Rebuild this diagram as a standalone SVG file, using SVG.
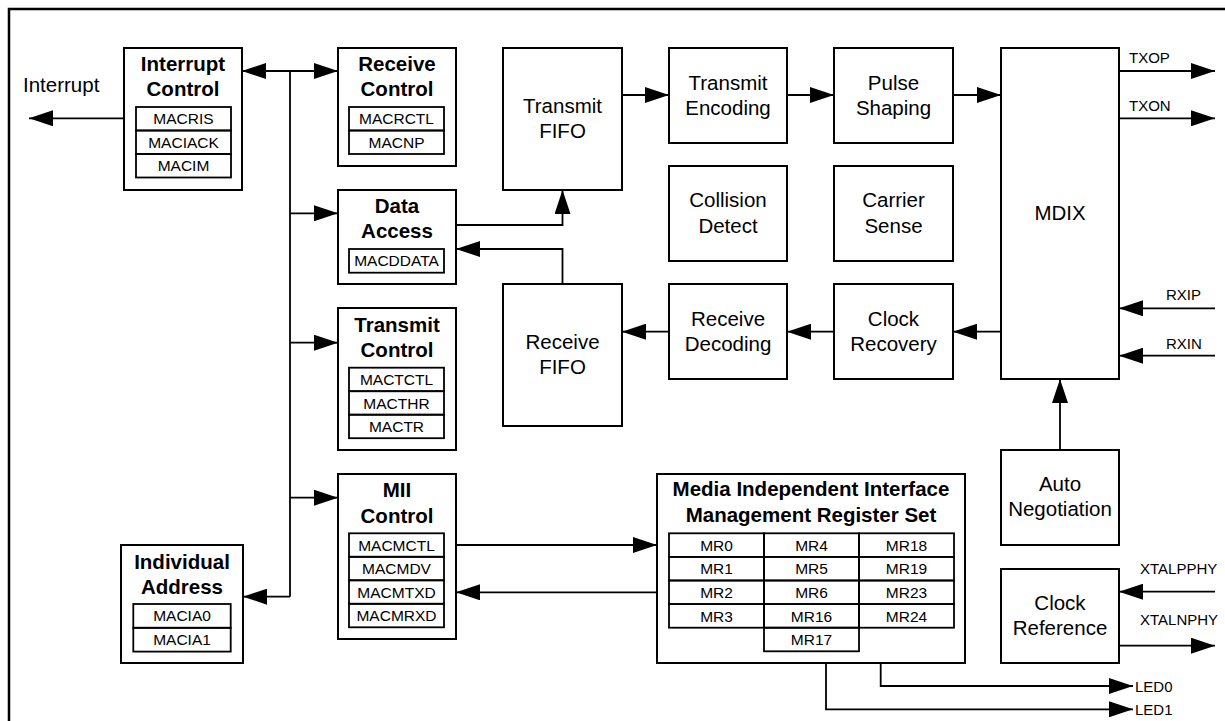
<svg xmlns="http://www.w3.org/2000/svg" width="1225" height="721" viewBox="0 0 1225 721">
<defs>
<marker id="ah" viewBox="0 0 24 16" refX="24" refY="8" markerWidth="24" markerHeight="16" markerUnits="userSpaceOnUse" orient="auto-start-reverse">
<path d="M0,0 L24,8 L0,16 z" fill="#000"/>
</marker>
<style>
.box{fill:#fff;stroke:#000;stroke-width:2}
.cell{fill:none;stroke:#000;stroke-width:1.8}
.ln{fill:none;stroke:#000;stroke-width:1.8}
.ar{fill:none;stroke:#000;stroke-width:1.8;marker-end:url(#ah)}
.t{font-family:"Liberation Sans",Arial,sans-serif;font-size:20.5px;text-anchor:middle;fill:#000}
.b{font-family:"Liberation Sans",Arial,sans-serif;font-size:20.5px;font-weight:bold;text-anchor:middle;fill:#000}
.r{font-family:"Liberation Sans",Arial,sans-serif;font-size:15.5px;text-anchor:middle;fill:#000}
.s{font-family:"Liberation Sans",Arial,sans-serif;font-size:15px;fill:#000}
</style>
</defs>
<rect width="1225" height="721" fill="#fff"/>
<path d="M9,721 V9 H1225" fill="none" stroke="#000" stroke-width="2.5"/>

<g id="connectors">
<line class="ar" x1="124" y1="118.3" x2="29" y2="118.3"/>
<line class="ln" x1="266" y1="71" x2="314" y2="71"/>
<line class="ar" x1="290" y1="71" x2="338" y2="71"/>
<line class="ar" x1="290" y1="71" x2="242" y2="71"/>
<line class="ln" x1="290" y1="71" x2="290" y2="596.7"/>
<line class="ar" x1="290" y1="213.3" x2="338" y2="213.3"/>
<line class="ar" x1="290" y1="342.7" x2="338" y2="342.7"/>
<line class="ar" x1="290" y1="497.7" x2="338" y2="497.7"/>
<line class="ar" x1="290" y1="596.7" x2="243" y2="596.7"/>
<path class="ar" d="M456,225 H562.5 V190"/>
<path class="ar" d="M562.5,284 V249 H456"/>
<line class="ar" x1="622" y1="95" x2="669" y2="95"/>
<line class="ar" x1="787" y1="95" x2="834" y2="95"/>
<line class="ar" x1="953" y1="95" x2="1001" y2="95"/>
<line class="ar" x1="1119" y1="71" x2="1215" y2="71"/>
<line class="ar" x1="1119" y1="118.3" x2="1215" y2="118.3"/>
<line class="ar" x1="1215" y1="308.3" x2="1119" y2="308.3"/>
<line class="ar" x1="1215" y1="355.7" x2="1119" y2="355.7"/>
<line class="ar" x1="1001" y1="331.7" x2="953" y2="331.7"/>
<line class="ar" x1="834" y1="331.7" x2="787" y2="331.7"/>
<line class="ar" x1="669" y1="331.7" x2="622" y2="331.7"/>
<line class="ar" x1="1060" y1="450" x2="1060" y2="379"/>
<line class="ar" x1="1215" y1="591.7" x2="1119" y2="591.7"/>
<line class="ar" x1="1119" y1="645.7" x2="1215" y2="645.7"/>
<line class="ar" x1="456" y1="545" x2="657" y2="545"/>
<line class="ar" x1="657" y1="592.3" x2="456" y2="592.3"/>
<path class="ar" d="M880.7,663 V686 H1133"/>
<path class="ar" d="M826,663 V709.3 H1133"/>
</g>

<g id="labels">
<text class="t" x="23" y="92" style="text-anchor:start">Interrupt</text>
<text class="s" x="1129" y="63">TXOP</text>
<text class="s" x="1129" y="111">TXON</text>
<text class="s" x="1166" y="300">RXIP</text>
<text class="s" x="1166" y="348.5">RXIN</text>
<text class="s" x="1140" y="574">XTALPPHY</text>
<text class="s" x="1140" y="625">XTALNPHY</text>
<text class="s" x="1135" y="691.5">LED0</text>
<text class="s" x="1135" y="714.5">LED1</text>
</g>

<g id="interrupt-control">
<rect class="box" x="124" y="48" width="118" height="142"/>
<text class="b" x="183" y="71">Interrupt</text>
<text class="b" x="183" y="96">Control</text>
<rect class="cell" x="136" y="107" width="95" height="23.5"/>
<rect class="cell" x="136" y="130.5" width="95" height="23.5"/>
<rect class="cell" x="136" y="154" width="95" height="23.5"/>
<text class="r" x="183.5" y="124.3">MACRIS</text>
<text class="r" x="183.5" y="147.8">MACIACK</text>
<text class="r" x="183.5" y="171.3">MACIM</text>
</g>

<g id="receive-control">
<rect class="box" x="338" y="48" width="118" height="118"/>
<text class="b" x="397" y="71">Receive</text>
<text class="b" x="397" y="96">Control</text>
<rect class="cell" x="349" y="107" width="95" height="23.5"/>
<rect class="cell" x="349" y="130.5" width="95" height="23.5"/>
<text class="r" x="396.5" y="124.3">MACRCTL</text>
<text class="r" x="396.5" y="147.8">MACNP</text>
</g>

<g id="data-access">
<rect class="box" x="338" y="190" width="118" height="94"/>
<text class="b" x="397" y="212.5">Data</text>
<text class="b" x="397" y="237.5">Access</text>
<rect class="cell" x="349" y="249" width="95" height="23.7"/>
<text class="r" x="396.5" y="266.4">MACDDATA</text>
</g>

<g id="transmit-control">
<rect class="box" x="338" y="308" width="118" height="142"/>
<text class="b" x="397" y="332">Transmit</text>
<text class="b" x="397" y="357">Control</text>
<rect class="cell" x="349" y="367.7" width="95" height="23.5"/>
<rect class="cell" x="349" y="391.2" width="95" height="23.5"/>
<rect class="cell" x="349" y="414.7" width="95" height="23.5"/>
<text class="r" x="396.5" y="385">MACTCTL</text>
<text class="r" x="396.5" y="408.5">MACTHR</text>
<text class="r" x="396.5" y="432">MACTR</text>
</g>

<g id="mii-control">
<rect class="box" x="338" y="474" width="118" height="165"/>
<text class="b" x="397" y="497">MII</text>
<text class="b" x="397" y="523">Control</text>
<rect class="cell" x="349" y="533.3" width="95" height="23.5"/>
<rect class="cell" x="349" y="556.8" width="95" height="23.5"/>
<rect class="cell" x="349" y="580.3" width="95" height="23.5"/>
<rect class="cell" x="349" y="603.8" width="95" height="23.5"/>
<text class="r" x="396.5" y="550.6">MACMCTL</text>
<text class="r" x="396.5" y="574.1">MACMDV</text>
<text class="r" x="396.5" y="597.6">MACMTXD</text>
<text class="r" x="396.5" y="621.1">MACMRXD</text>
</g>

<g id="individual-address">
<rect class="box" x="121" y="545" width="122" height="118"/>
<text class="b" x="182" y="568.5">Individual</text>
<text class="b" x="182" y="593.5">Address</text>
<rect class="cell" x="133.3" y="604" width="97.4" height="23.8"/>
<rect class="cell" x="133.3" y="627.8" width="97.4" height="23.8"/>
<text class="r" x="182" y="621.4">MACIA0</text>
<text class="r" x="182" y="645.2">MACIA1</text>
</g>

<g id="transmit-fifo">
<rect class="box" x="503" y="48" width="119" height="142"/>
<text class="t" x="562.5" y="113">Transmit</text>
<text class="t" x="562.5" y="137.5">FIFO</text>
</g>

<g id="transmit-encoding">
<rect class="box" x="669" y="48" width="118" height="95"/>
<text class="t" x="728" y="89.5">Transmit</text>
<text class="t" x="728" y="114.5">Encoding</text>
</g>

<g id="pulse-shaping">
<rect class="box" x="834" y="48" width="119" height="95"/>
<text class="t" x="893.5" y="89.5">Pulse</text>
<text class="t" x="893.5" y="114.5">Shaping</text>
</g>

<g id="mdix">
<rect class="box" x="1001" y="48" width="118" height="331"/>
<text class="t" x="1060" y="220">MDIX</text>
</g>

<g id="collision-detect">
<rect class="box" x="669" y="166" width="118" height="95"/>
<text class="t" x="728" y="207">Collision</text>
<text class="t" x="728" y="232.5">Detect</text>
</g>

<g id="carrier-sense">
<rect class="box" x="834" y="166" width="119" height="95"/>
<text class="t" x="893.5" y="207">Carrier</text>
<text class="t" x="893.5" y="232.5">Sense</text>
</g>

<g id="receive-fifo">
<rect class="box" x="503" y="284" width="119" height="142"/>
<text class="t" x="562.5" y="348.5">Receive</text>
<text class="t" x="562.5" y="373.5">FIFO</text>
</g>

<g id="receive-decoding">
<rect class="box" x="669" y="284" width="118" height="95"/>
<text class="t" x="728" y="325.5">Receive</text>
<text class="t" x="728" y="350.5">Decoding</text>
</g>

<g id="clock-recovery">
<rect class="box" x="834" y="284" width="119" height="95"/>
<text class="t" x="893.5" y="325.5">Clock</text>
<text class="t" x="893.5" y="350.5">Recovery</text>
</g>

<g id="mii-register-set">
<rect class="box" x="657" y="474" width="308" height="189"/>
<text class="b" x="811" y="496">Media Independent Interface</text>
<text class="b" x="811" y="522">Management Register Set</text>
<rect class="cell" x="669" y="533.3" width="95" height="23.6"/>
<rect class="cell" x="669" y="556.9" width="95" height="23.6"/>
<rect class="cell" x="669" y="580.5" width="95" height="23.6"/>
<rect class="cell" x="669" y="604.1" width="95" height="23.6"/>
<rect class="cell" x="764" y="533.3" width="95" height="23.6"/>
<rect class="cell" x="764" y="556.9" width="95" height="23.6"/>
<rect class="cell" x="764" y="580.5" width="95" height="23.6"/>
<rect class="cell" x="764" y="604.1" width="95" height="23.6"/>
<rect class="cell" x="764" y="627.7" width="95" height="23.6"/>
<rect class="cell" x="859" y="533.3" width="95" height="23.6"/>
<rect class="cell" x="859" y="556.9" width="95" height="23.6"/>
<rect class="cell" x="859" y="580.5" width="95" height="23.6"/>
<rect class="cell" x="859" y="604.1" width="95" height="23.6"/>
<text class="r" x="716.5" y="550.7">MR0</text>
<text class="r" x="716.5" y="574.3">MR1</text>
<text class="r" x="716.5" y="597.9">MR2</text>
<text class="r" x="716.5" y="621.5">MR3</text>
<text class="r" x="811.5" y="550.7">MR4</text>
<text class="r" x="811.5" y="574.3">MR5</text>
<text class="r" x="811.5" y="597.9">MR6</text>
<text class="r" x="811.5" y="621.5">MR16</text>
<text class="r" x="811.5" y="645.1">MR17</text>
<text class="r" x="906.5" y="550.7">MR18</text>
<text class="r" x="906.5" y="574.3">MR19</text>
<text class="r" x="906.5" y="597.9">MR23</text>
<text class="r" x="906.5" y="621.5">MR24</text>
</g>

<g id="auto-negotiation">
<rect class="box" x="1001" y="450" width="118" height="95"/>
<text class="t" x="1060" y="490.5">Auto</text>
<text class="t" x="1060" y="515.5">Negotiation</text>
</g>

<g id="clock-reference">
<rect class="box" x="1001" y="569" width="118" height="94"/>
<text class="t" x="1060" y="609.5">Clock</text>
<text class="t" x="1060" y="634.5">Reference</text>
</g>
</svg>
